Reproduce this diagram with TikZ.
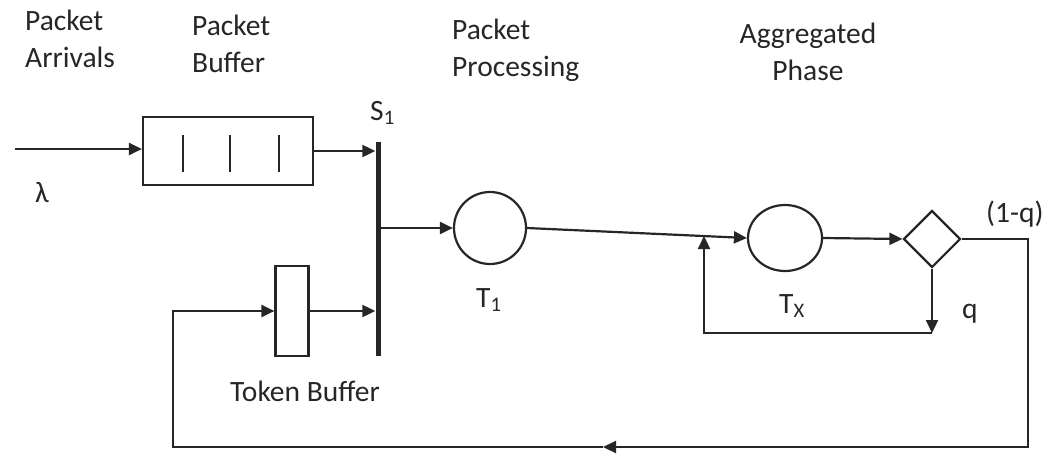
\documentclass[tikz,border=0pt]{standalone}
\usepackage{fontspec}
\setmainfont{Carlito}
\usepackage{xcolor}
\usepackage{tikz}
\usetikzlibrary{arrows.meta, positioning, shapes.geometric, calc}

\begin{document}
\begin{tikzpicture}[
    x=1pt, y=-1pt,
    lbl/.style={font=\fontsize{29.5}{37}\selectfont, text=black!85, inner sep=0pt, align=left},
    buffer/.style={rectangle, draw=black!85, line width=2.2pt, inner sep=0pt},
    server/.style={ellipse, draw=black!85, line width=2.2pt, inner sep=0pt},
    decision/.style={diamond, draw=black!85, line width=2.2pt, inner sep=0pt, aspect=1, minimum size=57pt},
    bar/.style={rectangle, fill=black!85, inner sep=0pt, minimum width=5pt, minimum height=214pt},
    arrow/.style={-{Triangle[length=13pt, width=12pt]}, line width=2.2pt, draw=black!85},
  ]

  \useasboundingbox (0,0) rectangle (1048,456);

  \node[lbl, anchor=base west] (h1) at (25,67) {Packet\\Arrivals};
  \node[lbl, anchor=base west] (h2) at (192,72) {Packet\\Buffer};
  \node[lbl, anchor=base west] (h3) at (452,76) {Packet\\Processing};
  \node[lbl, anchor=base, align=center] (h4) at (808,80) {Aggregated\\Phase};

  \node[buffer, minimum width=170pt, minimum height=68pt] (pbuf) at (228,151) {};
  \foreach \x in {183,230,279}
    \draw[line width=1.3pt, black!85] (\x,135) -- (\x,172);
  \node[buffer, minimum width=33pt, minimum height=90pt] (tbuf) at (292,311) {};
  \node[bar] (s1) at (378,249) {};
  \node[server, minimum width=72pt, minimum height=72pt] (t1) at (490,228) {};
  \node[server, minimum width=74pt, minimum height=66pt] (tx) at (785,238) {};
  \node[decision] (d1) at (932,239) {};

  \node[lbl, anchor=base west] (ls1) at (370,120) {S\textsubscript{1}};
  \node[lbl, anchor=base west] (llam) at (35,202) {λ};
  \node[lbl, anchor=base west] (lt1) at (476,307) {T\textsubscript{1}};
  \node[lbl, anchor=base west] (ltx) at (779,313) {T\textsubscript{X}};
  \node[lbl, anchor=base west] (lq) at (962,318) {q};
  \node[lbl, anchor=base west] (lnq) at (986,222) {(1-q)};
  \node[lbl, anchor=base] (ltb) at (305,401) {Token Buffer};

  \coordinate (src) at (15,149);
  \coordinate (join) at (704,236);
  \coordinate (qend) at (932,333);
  \coordinate (rc) at (1028,447);
  \coordinate (mid) at (603,447);
  \coordinate (lc) at (173,447);

  \draw[arrow] (src) -- (src -| pbuf.west);
  \draw[arrow] (pbuf.east) -- (pbuf.east -| s1.west);
  \draw[arrow] (tbuf.east) -- (tbuf.east -| s1.west);
  \draw[arrow] (s1.east |- t1.west) -- (t1.west);
  \draw[arrow] (t1.east) -- (tx.west);
  \draw[arrow] (tx.east) -- (d1.west);
  \draw[arrow] (d1.south) -- (qend);
  \draw[arrow] (qend) -| (join);
  \draw[arrow] (d1.east) -| (rc) -- (mid);
  \draw[arrow] (mid) -- (lc) |- (tbuf.west);

\end{tikzpicture}
\end{document}
